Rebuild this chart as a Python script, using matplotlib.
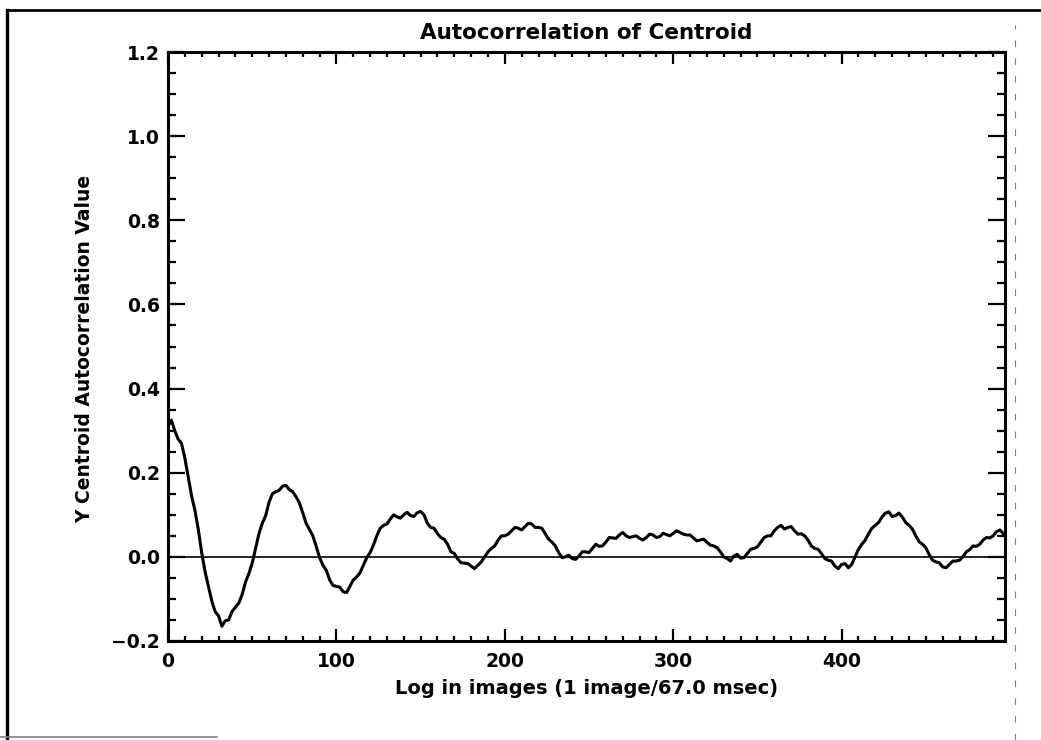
import matplotlib
matplotlib.use("Agg")
import matplotlib.pyplot as plt
from matplotlib.lines import Line2D
from matplotlib.ticker import MultipleLocator

# lag (images) and Y centroid autocorrelation
# values every 4 lags starting at 0
acorr_even = [
    0.31, 0.30, 0.27, 0.19, 0.11, 0.01, -0.07, -0.13, -0.165, -0.15,
    -0.12, -0.09, -0.04, 0.02, 0.08, 0.13, 0.155, 0.168, 0.16, 0.143,
    0.105, 0.065, 0.025, -0.02, -0.055, -0.07, -0.083, -0.07, -0.048, -0.02,
    0.01, 0.05, 0.075, 0.09, 0.095, 0.10, 0.098, 0.105, 0.10, 0.07,
    0.055, 0.042, 0.012, -0.005, -0.015, -0.022, -0.02, 0.0, 0.02, 0.04,
    0.05, 0.062, 0.068, 0.072, 0.078, 0.07, 0.055, 0.035, 0.01, 0.0,
    -0.004, 0.002, 0.012, 0.02, 0.025, 0.035, 0.045, 0.052, 0.05, 0.048,
    0.044, 0.046, 0.052, 0.048, 0.053, 0.056, 0.058, 0.052, 0.045, 0.04,
    0.035, 0.026, 0.012, -0.004, 0.002, -0.003, 0.008, 0.02, 0.035, 0.05,
    0.062, 0.075, 0.07, 0.062, 0.055, 0.04, 0.02, 0.008, -0.008, -0.022,
    -0.018, -0.026, 0.0, 0.03, 0.055, 0.075, 0.095, 0.107, 0.098, 0.095,
    0.075, 0.05, 0.03, 0.005, -0.012, -0.024, -0.018, -0.01, 0.0, 0.017,
    0.025, 0.04, 0.045, 0.06, 0.055,
]
# values every 4 lags starting at 2 (the jagged in-between points)
acorr_mid = [
    0.325, 0.28, 0.235, 0.145, 0.065, -0.035, -0.105, -0.14, -0.152, -0.13,
    -0.11, -0.06, -0.015, 0.055, 0.098, 0.15, 0.158, 0.17, 0.155, 0.128,
    0.08, 0.05, -0.002, -0.032, -0.068, -0.072, -0.085, -0.055, -0.038, -0.002,
    0.028, 0.068, 0.078, 0.10, 0.092, 0.106, 0.096, 0.108, 0.08, 0.068,
    0.046, 0.03, 0.008, -0.014, -0.016, -0.028, -0.012, 0.012, 0.026, 0.05,
    0.054, 0.07, 0.064, 0.08, 0.07, 0.068, 0.042, 0.026, -0.002, 0.004,
    -0.006, 0.012, 0.01, 0.03, 0.026, 0.046, 0.044, 0.058, 0.046, 0.05,
    0.04, 0.054, 0.046, 0.056, 0.05, 0.062, 0.054, 0.052, 0.038, 0.042,
    0.028, 0.022, 0.0, -0.01, 0.006, -0.002, 0.018, 0.024, 0.046, 0.05,
    0.07, 0.066, 0.072, 0.054, 0.05, 0.026, 0.018, -0.004, -0.01, -0.028,
    -0.016, -0.018, 0.018, 0.04, 0.068, 0.082, 0.104, 0.096, 0.104, 0.082,
    0.066, 0.036, 0.022, -0.008, -0.014, -0.026, -0.01, -0.008, 0.012, 0.026,
    0.03, 0.046, 0.05, 0.064,
]

lags = []
acorr = []
for i, v in enumerate(acorr_even):
    lags.append(4 * i)
    acorr.append(v)
    if i < len(acorr_mid):
        lags.append(4 * i + 2)
        acorr.append(acorr_mid[i])

xmax = 497
yticks = [-0.2, 0.0, 0.2, 0.4, 0.6, 0.8, 1.0, 1.2]
ytick_labels = ['\u22120.2', '0.0', '0.2', '0.4', '0.6', '0.8', '1.0', '1.2']
xticks = [0, 100, 200, 300, 400]

plt.rcParams['font.family'] = ['DejaVu Sans']
plt.rcParams['font.weight'] = 'bold'
fig = plt.figure(figsize=(10.41, 7.40), dpi=100)
ax = fig.add_axes([168 / 1041, 1 - 641 / 740, 837 / 1041, 589 / 740])

ax.plot(lags, acorr, color='black', linewidth=2.2)
ax.axhline(0, color='black', linewidth=1.2)

ax.set_xlim(0, xmax)
ax.set_ylim(-0.2, 1.2)
ax.set_xticks(xticks)
ax.set_yticks(yticks)
ax.set_yticklabels(ytick_labels)
ax.xaxis.set_minor_locator(MultipleLocator(10))
ax.yaxis.set_minor_locator(MultipleLocator(0.05))

ax.tick_params(axis='both', which='both', direction='in', top=True, right=True,
               color='black', width=1.6, labelsize=13.5)
ax.tick_params(axis='x', which='major', length=8.5, pad=8)
ax.tick_params(axis='x', which='minor', length=3.6)
ax.tick_params(axis='y', which='major', length=12, pad=6)
ax.tick_params(axis='y', which='minor', length=5.8)
for s in ax.spines.values():
    s.set_linewidth(2.2)

fig.text(586 / 1041, 1 - 33 / 740, 'Autocorrelation of Centroid', ha='center', va='center', fontsize=15.5)
fig.text(587 / 1041, 1 - 688 / 740, 'Log in images (1 image/67.0 msec)', ha='center', va='center', fontsize=14)
fig.text(85 / 1041, 1 - 349 / 740, 'Y Centroid Autocorrelation Value', ha='center', va='center',
         rotation=90, fontsize=13.5)

# scanned page edges
fig.add_artist(Line2D([7 / 1041, 7 / 1041], [0, 1 - 10 / 740], color='black', linewidth=2.4))
fig.add_artist(Line2D([7 / 1041, 1], [1 - 10 / 740, 1 - 10 / 740], color='black', linewidth=2.0))
fig.add_artist(Line2D([0, 217 / 1041], [1 - 737 / 740, 1 - 737 / 740], color='gray', linewidth=1.2))
fig.add_artist(Line2D([1015 / 1041, 1015 / 1041], [0, 1 - 25 / 740], color='gray',
                      linewidth=0.8, linestyle=(0, (6, 10))))

fig.savefig('out.png', dpi=100)
